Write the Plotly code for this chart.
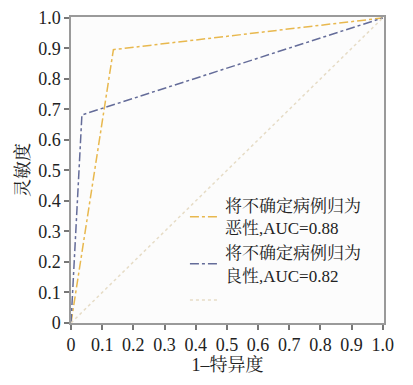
import plotly.graph_objects as go

# Data
fpr_malignant = [0, 0.136, 1.0]
tpr_malignant = [0, 0.896, 1.0]
fpr_benign = [0, 0.035, 1.0]
tpr_benign = [0, 0.682, 1.0]
ref_x = [0, 1]
ref_y = [0, 1]

tick_vals = [0, 0.1, 0.2, 0.3, 0.4, 0.5, 0.6, 0.7, 0.8, 0.9, 1.0]
tick_text = ["0", "0.1", "0.2", "0.3", "0.4", "0.5", "0.6", "0.7", "0.8", "0.9", "1.0"]

name_malignant = "将不确定病例归为<br>恶性,AUC=0.88"
name_benign = "将不确定病例归为<br>良性,AUC=0.82"

FONT = "Liberation Serif, Times New Roman, Noto Serif CJK SC, Noto Sans CJK SC, serif"

fig = go.Figure()
fig.add_trace(go.Scatter(x=fpr_malignant, y=tpr_malignant, mode="lines", name=name_malignant,
                         line=dict(color="#E8B84E", width=1.5, dash="dashdot")))
fig.add_trace(go.Scatter(x=fpr_benign, y=tpr_benign, mode="lines", name=name_benign,
                         line=dict(color="#646C99", width=1.5, dash="dashdot")))
fig.add_trace(go.Scatter(x=ref_x, y=ref_y, mode="lines", name=" ",
                         line=dict(color="#E6DCC6", width=1.5, dash="dot")))

axis_common = dict(
    showgrid=False, zeroline=False, showline=True, mirror=True, automargin=False,
    linecolor="#9a9a9a", linewidth=1.5,
    ticks="outside", ticklen=5, tickcolor="#777777", tickwidth=1.5,
    tickfont=dict(family=FONT, size=18, color="#222222"),
    tickvals=tick_vals, ticktext=tick_text, ticklabeloverflow="allow",
)

# page body has an 8px default margin, so the figure is sized to fit the window
fig.update_layout(
    width=405, height=377,
    margin=dict(l=63, r=29, t=9, b=62),
    paper_bgcolor="white", plot_bgcolor="#fcfcfc",
    font=dict(family=FONT, size=18, color="#222222"),
    xaxis=dict(range=[0, 1.004], title=dict(text="1–特异度", font=dict(family=FONT, size=18), standoff=2), **axis_common),
    yaxis=dict(range=[0, 1.003], title=dict(text="灵敏度", font=dict(family=FONT, size=18), standoff=4), **axis_common),
    legend=dict(x=0.364, y=0.441, xanchor="left", yanchor="top", bgcolor="rgba(0,0,0,0)",
                font=dict(family=FONT, size=17, color="#222222"), tracegroupgap=0),
    showlegend=True,
)

fig.write_html("out.html")
